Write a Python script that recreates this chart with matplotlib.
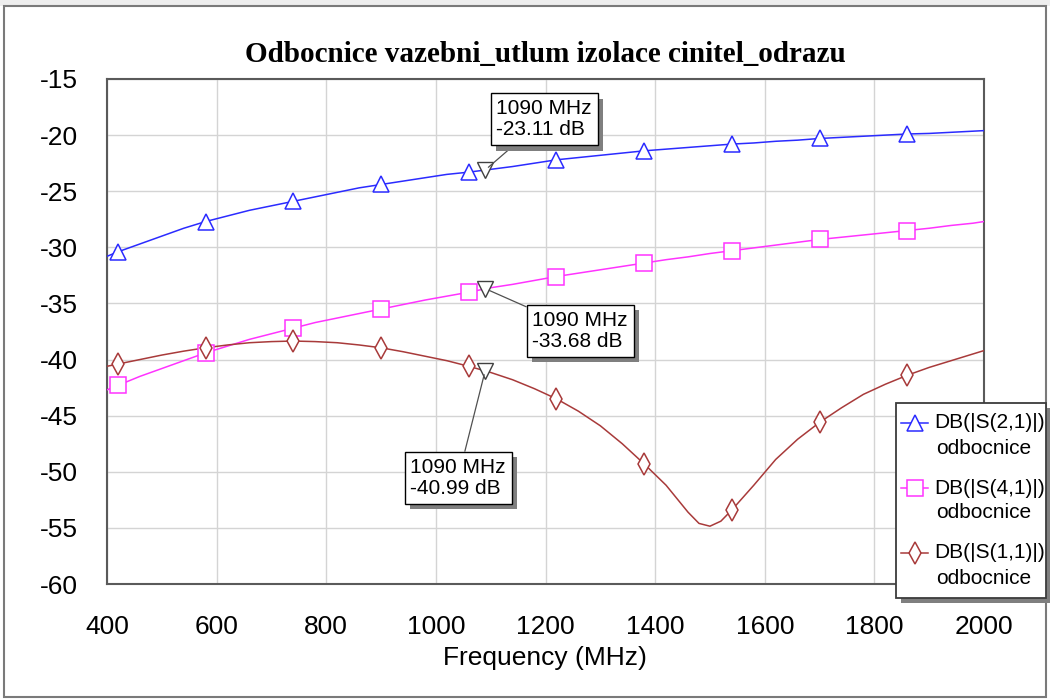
import numpy as np
import matplotlib.pyplot as plt
import matplotlib.patheffects as pe
from matplotlib.lines import Line2D
from matplotlib.patches import Rectangle

plt.rcParams['font.family'] = ['Liberation Sans', 'DejaVu Sans']
plt.rcParams['axes.unicode_minus'] = False

W, H = 1050, 700

# sweep points (MHz)
freq = [400, 420, 460, 500, 540, 580, 620, 660, 700, 740, 780, 820, 860, 900,
        940, 980, 1020, 1060, 1100, 1140, 1180, 1220, 1260, 1300, 1340, 1380,
        1420, 1460, 1500, 1540, 1580, 1620, 1660, 1700, 1740, 1780, 1820, 1860,
        1900, 1940, 1980, 2000]

s21 = [-30.8, -30.4, -29.7, -29.0, -28.3, -27.7, -27.2, -26.7, -26.3, -25.9,
       -25.5, -25.1, -24.7, -24.4, -24.1, -23.8, -23.5, -23.3, -23.05, -22.8,
       -22.5, -22.2, -22.0, -21.8, -21.6, -21.4, -21.25, -21.1, -20.95, -20.8,
       -20.7, -20.55, -20.45, -20.3, -20.2, -20.1, -20.0, -19.9, -19.85, -19.75,
       -19.65, -19.6]

s41 = [-42.7, -42.3, -41.5, -40.8, -40.1, -39.4, -38.8, -38.2, -37.7, -37.2,
       -36.7, -36.3, -35.9, -35.5, -35.1, -34.7, -34.35, -34.0, -33.6, -33.3,
       -32.95, -32.6, -32.3, -32.0, -31.7, -31.4, -31.1, -30.85, -30.55, -30.3,
       -30.05, -29.8, -29.55, -29.3, -29.1, -28.9, -28.7, -28.5, -28.3, -28.05,
       -27.85, -27.7]

freq_s11 = [400, 420, 460, 500, 540, 580, 620, 660, 700, 740, 780, 820, 860,
            900, 940, 980, 1020, 1060, 1100, 1140, 1180, 1220, 1260, 1300, 1340,
            1380, 1420, 1460, 1480, 1500, 1520, 1540, 1580, 1620, 1660, 1700,
            1740, 1780, 1820, 1860, 1900, 1940, 1980, 2000]

s11 = [-40.6, -40.4, -40.0, -39.6, -39.25, -38.95, -38.7, -38.5, -38.4, -38.35,
       -38.4, -38.5, -38.7, -38.95, -39.3, -39.7, -40.1, -40.6, -41.15, -41.8,
       -42.6, -43.5, -44.6, -45.9, -47.5, -49.3, -51.2, -53.6, -54.6, -54.85,
       -54.4, -53.4, -51.2, -48.9, -47.1, -45.6, -44.3, -43.1, -42.2, -41.4,
       -40.7, -40.1, -39.5, -39.2]

symbol_freq = [420, 580, 740, 900, 1060, 1220, 1380, 1540, 1700, 1860]

marker_freq = 1090
marker_db = [-23.11, -33.68, -40.99]

series = [
    (freq, s21, '#2b2bff', '^', 11, 'DB(|S(2,1)|)'),
    (freq, s41, '#ff33ff', 's', 12, 'DB(|S(4,1)|)'),
    (freq_s11, s11, '#a83a3a', 'd', 11, 'DB(|S(1,1)|)'),
]


def fpos(x, y):
    # pixel position (origin top-left) -> figure fraction
    return x / W, 1 - y / H


fig = plt.figure(figsize=(W / 100, H / 100), dpi=100)
fig.patch.set_facecolor('white')

# window frame
fig.add_artist(Rectangle((0, 1 - 6 / H), 1, 6 / H, transform=fig.transFigure,
                         facecolor='#eeeeee', edgecolor='none'))
fig.add_artist(Rectangle(fpos(4, 697), (1046 - 4) / W, (697 - 6) / H,
                         transform=fig.transFigure, facecolor='none',
                         edgecolor='#7a7a7a', lw=1.5))

ax = fig.add_axes([107 / W, 1 - 584 / H, (984 - 107) / W, (584 - 79) / H])

for f, v, col, mk, ms, lab in series:
    f = np.array(f)
    v = np.array(v)
    ax.plot(f, v, color=col, lw=1.1, zorder=3)
    sel = np.isin(f, symbol_freq)
    ax.plot(f[sel], v[sel], ls='none', marker=mk, ms=ms, mfc='white',
            mec=col, mew=1.1, zorder=4)

ax.set_xlim(400, 2000)
ax.set_ylim(-60, -15)
ax.set_xticks(range(400, 2001, 200))
ax.set_yticks(range(-60, -14, 5))
ax.grid(True, color='#d4d4d4', lw=1)
ax.set_axisbelow(True)
ax.tick_params(length=0, labelsize=19, pad=22)
ax.tick_params(axis='y', pad=21)
for sp in ax.spines.values():
    sp.set_color('#5a5a5a')
    sp.set_linewidth(1.5)

fig.text(545 / W, 1 - 658 / H, 'Frequency (MHz)', fontsize=19,
         ha='center', va='center')
fig.text(545 / W, 1 - 55 / H, 'Odbocnice vazebni_utlum izolace cinitel_odrazu',
         fontsize=21, fontweight='bold', family='Liberation Serif',
         ha='center', va='center')

# 1090 MHz markers with readout boxes
offsets = [(59, 51), (95, -42), (-27, -107)]
for val, off in zip(marker_db, offsets):
    ax.plot([marker_freq], [val], ls='none', marker='v', ms=11, mfc='white',
            mec='#404040', mew=1, zorder=6)
    ann = ax.annotate('%d MHz\n%.2f dB' % (marker_freq, val),
                      xy=(marker_freq, val), xytext=off,
                      textcoords='offset pixels', ha='center', va='center',
                      multialignment='left', fontsize=15, linespacing=1.15,
                      zorder=7,
                      bbox=dict(boxstyle='square,pad=0.28', fc='white',
                                ec='black', lw=1),
                      arrowprops=dict(arrowstyle='-', color='#505050', lw=0.9,
                                      shrinkA=0, shrinkB=3))
    ann.get_bbox_patch().set_path_effects([
        pe.SimplePatchShadow(offset=(4, -4), shadow_rgbFace='#7f7f7f', alpha=1),
        pe.Normal()])

# legend box
lx0, ly0, lx1, ly1 = 896, 403, 1046, 598
fig.add_artist(Rectangle(fpos(lx0 + 5, ly1 + 5), (lx1 - lx0) / W, (ly1 - ly0) / H,
                         transform=fig.transFigure, facecolor='#7f7f7f',
                         edgecolor='none', zorder=9))
fig.add_artist(Rectangle(fpos(lx0, ly1), (lx1 - lx0) / W, (ly1 - ly0) / H,
                         transform=fig.transFigure, facecolor='white',
                         edgecolor='#3c3c3c', lw=1.3, zorder=10))
for i, (f, v, col, mk, ms, lab) in enumerate(series):
    yy = 423 + 65 * i
    fig.add_artist(Line2D([901 / W, 928 / W], [1 - yy / H, 1 - yy / H],
                          transform=fig.transFigure, color=col, lw=1.1,
                          zorder=11))
    fig.add_artist(Line2D([914.5 / W], [1 - yy / H], transform=fig.transFigure,
                          marker=mk, ms=ms, mfc='white', mec=col, mew=1.1,
                          zorder=12))
    fig.text(934 / W, 1 - yy / H, lab, fontsize=15, va='center', zorder=12)
    fig.text(936 / W, 1 - (yy + 25) / H, 'odbocnice', fontsize=15,
             va='center', zorder=12)

fig.savefig('out.png', dpi=100)
